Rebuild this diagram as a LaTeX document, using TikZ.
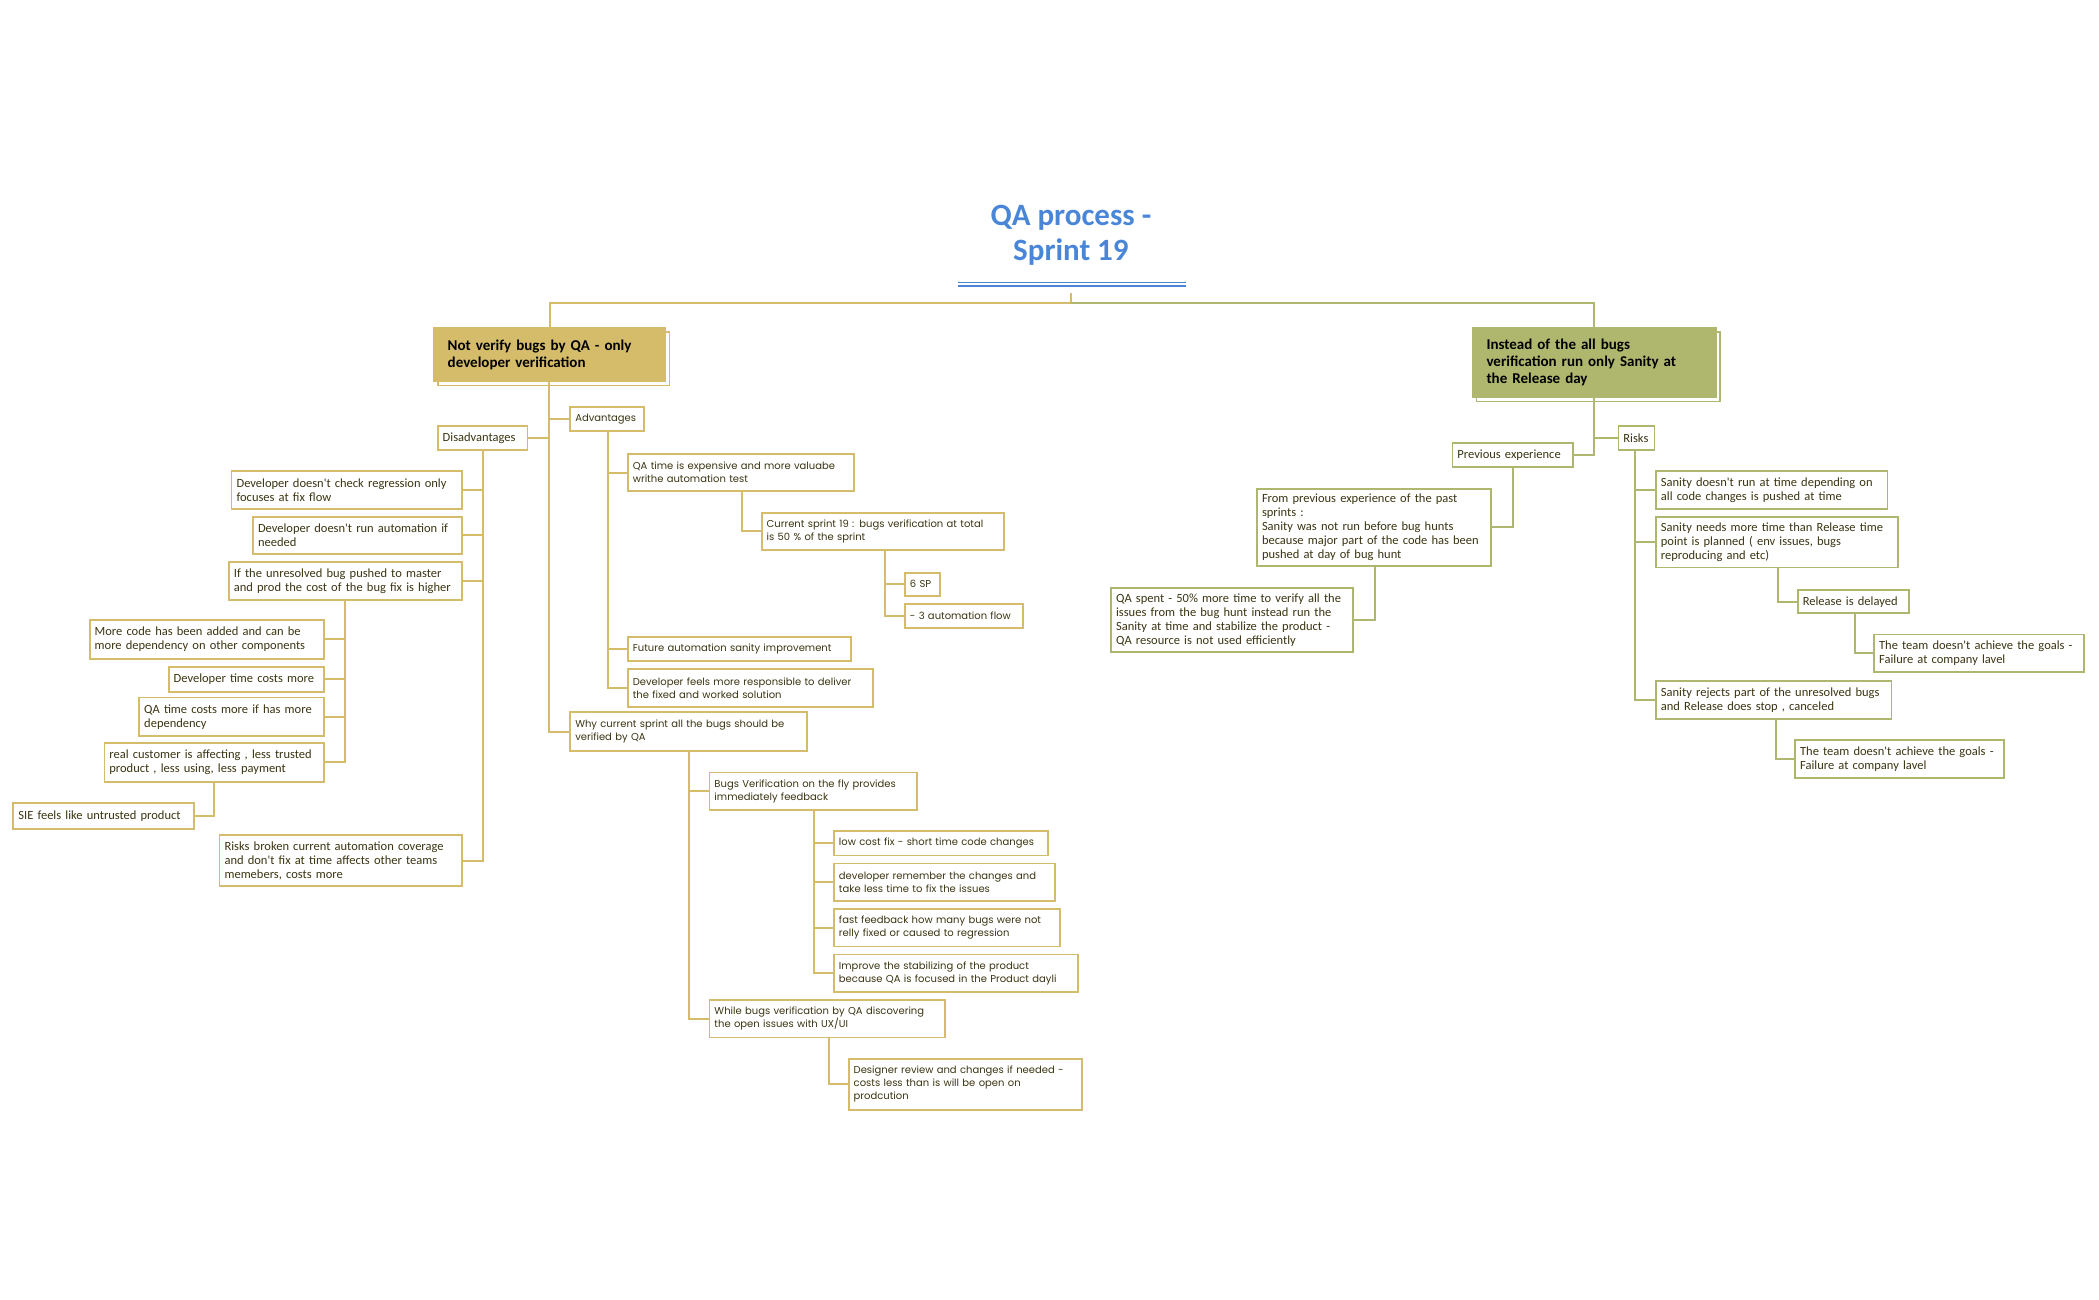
\documentclass[tikz,border=0pt]{standalone}
\usepackage{fontspec}
\newfontfamily\carl{Carlito}
\newfontfamily\pop{Poppins}
\usetikzlibrary{calc,shadows}
\definecolor{gold}{HTML}{D4BC6A}
\definecolor{olive}{HTML}{AFB76E}
\definecolor{ink}{HTML}{3B3512}
\definecolor{qablue}{HTML}{4A86D8}
\tikzset{
  box/.style={draw=gold, line width=1.8pt, fill=white, inner xsep=5pt, inner ysep=0pt, align=left, text=ink},
  cond/.style={box, font=\carl\fontsize{12.5}{14}\selectfont},
  geo/.style={box, font=\pop\fontsize{10}{13}\selectfont},
  rcond/.style={cond, draw=olive},
  root/.style={box, text=black, font=\carl\bfseries\fontsize{15}{17}\selectfont, inner xsep=14pt,
    copy shadow={shadow xshift=4pt, shadow yshift=-4pt, fill=white, draw=gold, line width=1.6pt}},
  link/.style={gold, line width=2pt},
  rlink/.style={olive, line width=2pt}
}
% box from display corners (x1,y1) to (x2,y2)
\newcommand\bx[7][cond]{%
  \pgfmathsetmacro\bw{(#5-#3)*1.3387}%
  \pgfmathsetmacro\bh{(#6-#4)*1.3387}%
  \pgfmathsetmacro\tw{\bw-10}%
  \node[#1, minimum width=\bw pt, minimum height=\bh pt, text width=\tw pt] (#2) at ({(#3+#5)/2},{(#4+#6)/2}) {#7};}
% same for the two main topics, with wider padding
\newcommand\rbx[7][root]{%
  \pgfmathsetmacro\bw{(#5-#3)*1.3387}%
  \pgfmathsetmacro\bh{(#6-#4)*1.3387}%
  \pgfmathsetmacro\tw{\bw-28}%
  \node[root, #1, minimum width=\bw pt, minimum height=\bh pt, text width=\tw pt] (#2) at ({(#3+#5)/2},{(#4+#6)/2}) {#7};}
% elbow link: parent, trunk x, child, child anchor
\newcommand\lk[5][link]{\draw[#1] let \p1=(#2.south) in ({#3*1.3387pt},\y1) |- (#4.#5);}
\begin{document}
\begin{tikzpicture}[x=1.3387pt,y=-1.3387pt]
  \useasboundingbox (0,0) rectangle (1568,971);

  % title
  \node[font=\carl\bfseries\fontsize{31}{35}\selectfont, text=qablue, align=center] (title) at (800,176) {QA process -\\ Sprint 19};
  \draw[qablue, line width=1.4pt, double, double distance=2pt] (716,212.5) -- (886,212.5);
  \coordinate (hub) at (800,226);

  % roots
  \rbx[fill=gold]{lroot}{324}{245}{497}{285}{Not verify bugs by QA - only\\developer verification}
  \rbx[fill=olive, draw=olive, copy shadow={shadow xshift=4pt, shadow yshift=-4pt, fill=white, draw=olive, line width=1.6pt}]{rroot}{1100}{245}{1282}{297}{Instead of the all bugs\\verification run only Sanity at\\the Release day}
  \draw[link] (800,219) -- (hub) -| (lroot.north);
  \draw[rlink] (hub) -| (rroot.north);

  % left: disadvantages
  \bx{dis}{327}{318}{394}{336}{Disadvantages}
  \bx{d1}{173}{352}{345}{380}{Developer doesn't check regression only\\focuses at fix flow}
  \bx{d2}{189}{386}{345}{414}{Developer doesn't run automation if\\needed}
  \bx{d3}{171}{420}{345}{448}{If the unresolved bug pushed to master\\and prod the cost of the bug fix is higher}
  \bx{d31}{67}{463}{242}{492}{More code has been added and can be\\more dependency on other components}
  \bx{d32}{126}{498}{242}{517}{Developer time costs more}
  \bx{d33}{104}{521}{242}{550}{QA time costs more if has more\\dependency}
  \bx{d34}{78}{555}{242}{584}{real customer is affecting , less trusted\\product , less using, less payment}
  \bx{d341}{10}{600}{145}{619}{SIE feels like untrusted product}
  \bx{d4}{164}{624}{345}{662}{Risks broken current automation coverage\\and don't fix at time affects other teams\\memebers, costs more}

  % left: advantages
  \bx[geo]{adv}{426}{304}{481}{322}{Advantages}
  \bx[geo]{a1}{469}{339}{638}{367}{QA time is expensive and more valuabe\\writhe automation test}
  \bx[geo]{a11}{569}{383}{750}{411}{Current sprint 19 : bugs verification at total\\is 50 \% of the sprint}
  \bx[geo]{a111}{676}{428}{702}{445}{6 SP}
  \bx[geo]{a112}{676}{451}{764}{469}{- 3 automation flow}
  \bx[geo]{a2}{469}{476}{636}{494}{Future automation sanity improvement}
  \bx[geo]{a3}{469}{500}{652}{528}{Developer feels more responsible to deliver\\the fixed and worked solution}

  % left: why
  \bx[geo]{why}{426}{532}{603}{561}{Why current sprint all the bugs should be\\verified by QA}
  \bx[geo]{w1}{530}{577}{685}{605}{Bugs Verification on the fly provides\\immediately feedback}
  \bx[geo]{w11}{623}{621}{783}{639}{low cost fix - short time code changes}
  \bx[geo]{w12}{623}{645}{788}{673}{developer remember the changes and\\take less time to fix the issues}
  \bx[geo]{w13}{623}{679}{792}{707}{fast feedback how many bugs were not\\relly fixed or caused to regression}
  \bx[geo]{w14}{623}{713}{805}{741}{Improve the stabilizing of the product\\because QA is focused in the Product dayli}
  \bx[geo]{w2}{530}{747}{706}{775}{While bugs verification by QA discovering\\the open issues with UX/UI}
  \bx[geo]{w21}{634}{791}{808}{829}{Designer review and changes if needed -\\costs less than is will be open on\\prodcution}

  % left links
  \lk{lroot}{410}{dis}{east}
  \lk{lroot}{410}{adv}{west}
  \lk{lroot}{410}{why}{west}
  \foreach \c in {d1,d2,d3,d4} {\lk{dis}{361}{\c}{east}}
  \foreach \c in {d31,d32,d33,d34} {\lk{d3}{258}{\c}{east}}
  \lk{d34}{160}{d341}{east}
  \foreach \c in {a1,a2,a3} {\lk{adv}{454}{\c}{west}}
  \lk{a1}{554}{a11}{west}
  \foreach \c in {a111,a112} {\lk{a11}{661}{\c}{west}}
  \foreach \c in {w1,w2} {\lk{why}{515}{\c}{west}}
  \foreach \c in {w11,w12,w13,w14} {\lk{w1}{608}{\c}{west}}
  \lk{w2}{619}{w21}{west}

  % right: previous experience
  \bx[rcond]{prev}{1085}{331}{1175}{349}{Previous experience}
  \bx[rcond]{p1}{939}{365}{1114}{423}{From previous experience of the past\\sprints :\\Sanity was not run before bug hunts\\because major part of the code has been\\pushed at day of bug hunt}
  \bx[rcond]{p11}{830}{439}{1011}{487}{QA spent - 50\% more time to verify all the\\issues from the bug hunt instead run the\\Sanity at time and stabilize the product -\\QA resource is not used efficiently}

  % right: risks
  \bx[rcond]{risk}{1209}{318}{1236}{336}{Risks}
  \bx[rcond]{r1}{1237}{352}{1410}{380}{Sanity doesn't run at time depending on\\all code changes is pushed at time}
  \bx[rcond]{r2}{1237}{386}{1418}{424}{Sanity needs more time than Release time\\point is planned ( env issues, bugs\\reproducing and etc)}
  \bx[rcond]{r21}{1343}{441}{1426}{458}{Release is delayed}
  \bx[rcond]{r211}{1400}{474}{1557}{502}{The team doesn't achieve the goals -\\Failure at company lavel}
  \bx[rcond]{r3}{1237}{509}{1413}{537}{Sanity rejects part of the unresolved bugs\\and Release does stop , canceled}
  \bx[rcond]{r31}{1341}{553}{1497}{581}{The team doesn't achieve the goals -\\Failure at company lavel}

  % right links
  \lk[rlink]{rroot}{1191}{prev}{east}
  \lk[rlink]{rroot}{1191}{risk}{west}
  \lk[rlink]{prev}{1130}{p1}{east}
  \lk[rlink]{p1}{1027}{p11}{east}
  \foreach \c in {r1,r2,r3} {\lk[rlink]{risk}{1221}{\c}{west}}
  \lk[rlink]{r2}{1328}{r21}{west}
  \lk[rlink]{r21}{1386}{r211}{west}
  \lk[rlink]{r3}{1327}{r31}{west}
\end{tikzpicture}
\end{document}
